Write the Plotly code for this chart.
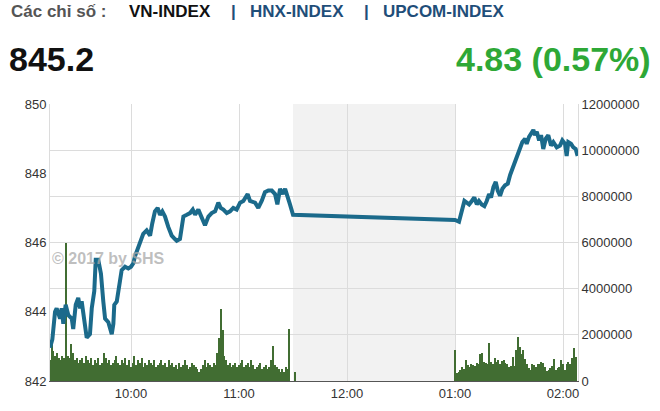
import plotly.graph_objects as go

# ---------------- data ----------------
# price line: time in minutes since midnight, VN-INDEX value
price_time = [
    555.0, 556.3, 557.8, 558.7, 560.6, 561.5, 562.4, 563.7, 565.2, 567.1,
    567.9, 569.3, 570.7, 571.7, 572.6, 574.1, 575.4, 577.2, 578.2, 579.6,
    580.4, 581.8, 583.3, 584.6, 585.6, 587.4, 589.3, 590.2, 590.7, 592.1,
    593.3, 594.8, 596.7, 598.5, 600.0, 601.3, 602.2, 603.7, 605.0, 606.8,
    608.7, 610.6, 611.8, 613.3, 614.8, 616.1, 617.4, 618.9, 620.7, 622.6,
    624.4, 625.4, 627.2, 629.1, 631.0, 632.8, 634.3, 635.6, 637.4, 639.3,
    641.1, 643.0, 644.8, 646.7, 648.5, 649.8, 651.3, 653.2, 655.0, 656.8,
    658.7, 660.6, 662.4, 664.8, 666.1, 668.9, 670.7, 672.6, 674.4, 676.3,
    678.2, 680.0, 681.3, 682.8, 684.3, 685.6, 686.8, 688.3, 690.0,
    780.0, 782.2, 783.7, 785.2, 786.5, 787.8, 789.3, 790.7, 792.1, 793.3,
    794.8, 796.3, 797.6, 798.9, 800.0, 801.3, 802.6, 803.7, 805.0, 806.3,
    807.8, 809.3, 810.6, 812.4, 814.3, 816.1, 817.4, 818.9, 819.8, 821.1,
    822.6, 823.5, 824.4, 825.4, 826.7, 827.8, 829.0, 830.4, 831.8, 833.3,
    834.6, 836.5, 838.3, 839.6, 841.1, 842.0, 842.9, 844.4, 845.7, 847.0,
    848.1,
]
price_value = [
    842.96, 843.2, 844.0, 844.1, 843.8, 844.1, 843.65, 844.2, 843.9, 843.8,
    843.5, 844.2, 844.4, 844.1, 844.3, 843.8, 843.25, 843.35, 844.1, 844.6,
    845.5, 845.5, 845.1, 844.3, 843.8, 843.7, 843.35, 843.65, 844.2, 844.3,
    844.8, 845.2, 845.3, 845.25, 845.3, 845.4, 845.6, 845.8, 846.05, 846.25,
    846.35, 846.2, 846.55, 846.9, 847.0, 846.8, 846.9, 846.75, 846.45, 846.2,
    846.1, 846.05, 846.1, 846.75, 846.8, 846.85, 846.95, 846.8, 846.95, 846.7,
    846.5, 846.75, 846.85, 846.9, 847.15, 847.0, 846.95, 846.85, 846.9, 847.0,
    846.95, 847.15, 847.2, 847.4, 847.2, 847.15, 847.0, 847.2, 847.45, 847.5,
    847.5, 847.4, 847.1, 847.55, 847.4, 847.55, 847.3, 847.1, 846.8,
    846.65, 846.6, 846.9, 847.2, 847.15, 847.1, 847.2, 847.3, 847.1, 847.2,
    847.1, 847.05, 847.2, 847.4, 847.3, 847.6, 847.75, 847.5, 847.35, 847.55,
    847.65, 847.7, 847.95, 848.2, 848.45, 848.65, 848.9, 849.0, 848.85, 849.05,
    849.15, 849.25, 849.1, 849.2, 848.95, 849.1, 848.7, 849.0, 849.1, 848.8,
    848.9, 848.75, 848.8, 848.95, 848.85, 848.5, 848.9, 848.85, 848.75, 848.7,
    848.5,
]

# volume per minute (millions of shares), morning session from 09:15
vol_morning = [
    0.9, 1.7, 1.3, 1.1, 1.2, 1.0, 0.9, 1.1, 1.0, 6.0,
    1.1, 1.0, 1.6, 1.2, 0.9, 1.0, 0.8, 0.9, 1.0, 0.8,
    1.1, 0.9, 0.8, 1.0, 0.7, 0.9, 0.8, 1.0, 0.7, 0.8,
    1.2, 1.0, 0.8, 0.9, 0.7, 0.8, 0.9, 1.1, 0.8, 0.7,
    0.9, 0.8, 1.0, 0.7, 0.9, 0.6, 0.8, 1.1, 0.7, 0.9,
    0.8, 1.0, 0.6, 0.8, 0.7, 0.9, 0.8, 0.7, 0.9, 0.6,
    0.7, 0.8, 0.9, 0.7, 0.8, 0.6, 0.9, 0.7, 0.8, 0.6,
    0.7, 0.5, 0.8, 0.6, 0.7, 0.9, 0.7, 0.5, 0.6, 0.8,
    0.7, 0.6, 0.5, 0.4, 0.5, 0.7, 0.9, 0.6, 0.8, 0.7,
    0.6, 0.8, 0.7, 1.2, 1.85, 3.1, 2.2, 1.1, 0.9, 0.7,
    0.8, 0.6, 0.7, 0.8, 0.6, 0.7, 0.8, 0.9, 0.6, 0.7,
    0.8, 0.6, 0.9, 0.7, 0.5, 0.6, 0.7, 0.8, 0.5, 0.6,
    0.7, 0.5, 0.6, 0.9, 1.5, 0.7, 0.6, 0.5, 0.4, 0.5,
    0.4, 0.6, 0.5, 2.25, 0.0, 0.0, 0.4,
]
# volume per minute (millions of shares), afternoon session from 13:00
vol_afternoon = [
    1.33, 0.35, 0.39, 0.46, 0.61, 0.54, 0.93, 0.68, 0.61, 0.75,
    0.68, 0.64, 0.78, 0.72, 1.16, 1.22, 0.83, 0.78, 0.75, 1.65,
    0.83, 0.75, 1.01, 0.83, 0.90, 0.75, 0.87, 0.93, 0.78, 0.72,
    0.61, 0.64, 1.04, 0.64, 1.33, 1.91, 1.48, 1.16, 1.33, 0.97,
    0.75, 0.58, 0.49, 0.75, 0.68, 0.61, 0.75, 0.72, 0.83, 0.78,
    0.61, 0.43, 0.46, 0.58, 0.64, 0.97, 0.49, 0.58, 0.61, 0.90,
    0.75, 0.49, 0.75, 0.83, 0.75, 1.01, 1.41, 1.04,
]
morning_start = 555   # 09:15
afternoon_start = 780  # 13:00
lunch_start, lunch_end = 690, 780

tick_minutes = [600, 660, 720, 780, 840]
tick_labels = ["10:00", "11:00", "12:00", "01:00", "02:00"]
price_ticks = [842, 844, 846, 848, 850]

# --------------- build ---------------
vol_x = [morning_start + i for i in range(len(vol_morning))] + \
        [afternoon_start + i for i in range(len(vol_afternoon))]
vol_y = [v * 1e6 for v in vol_morning + vol_afternoon]

FONT = "Liberation Sans, Arial, sans-serif"
fig = go.Figure()
fig.add_trace(go.Bar(x=vol_x, y=vol_y, width=0.7, marker_color="#416d32",
                     marker_line_width=0, yaxis="y", hoverinfo="skip"))
fig.add_trace(go.Scatter(x=price_time, y=price_value, mode="lines",
                         line=dict(color="#1b6a8b", width=4),
                         yaxis="y2", hoverinfo="skip"))

L, R, T, B = 50, 578, 104, 381
W, H = 660, 411


def px(xp):
    return (xp - L) / (R - L)


def py(yp):
    return (B - yp) / (B - T)


fig.add_shape(type="rect", xref="x", yref="paper", x0=lunch_start, x1=lunch_end,
              y0=0, y1=1, fillcolor="#f2f2f2", line_width=0, layer="below")

ann = []
hdr_y = py(12)
ann.append(dict(text="<b>Các chỉ số :</b>", x=px(9), y=hdr_y, font=dict(size=17, color="#555555")))
ann.append(dict(text="<b>VN-INDEX</b>", x=px(127), y=hdr_y, font=dict(size=17, color="#111111")))
ann.append(dict(text="<b>|</b>", x=px(229), y=hdr_y, font=dict(size=17, color="#1f4e79")))
ann.append(dict(text="<b>HNX-INDEX</b>", x=px(248), y=hdr_y, font=dict(size=17, color="#1f4e79")))
ann.append(dict(text="<b>|</b>", x=px(362), y=hdr_y, font=dict(size=17, color="#1f4e79")))
ann.append(dict(text="<b>UPCOM-INDEX</b>", x=px(381), y=hdr_y, font=dict(size=17, color="#1f4e79")))
ann.append(dict(text="<b>845.2</b>", x=px(7), y=py(59), font=dict(size=34, color="#111111")))
ann.append(dict(text="<b>4.83 (0.57%)</b>", x=px(653), y=py(59), xanchor="right",
                font=dict(size=34, color="#2ea836")))
ann.append(dict(text="<b>© 2017 by SHS</b>", x=px(50), y=py(258),
                font=dict(size=16, color="rgba(170,170,170,0.75)")))
annotations = []
for a in ann:
    d = dict(xref="paper", yref="paper", showarrow=False, xanchor="left", yanchor="middle")
    d.update(a)
    d["font"] = dict(family=FONT, **a["font"])
    annotations.append(d)

fig.update_layout(
    width=W, height=H, autosize=False,
    margin=dict(l=L, r=W - R, t=T, b=H - B, pad=0),
    paper_bgcolor="white", plot_bgcolor="white",
    showlegend=False, bargap=0,
    font=dict(family=FONT, size=13, color="#333333"),
    annotations=annotations,
    xaxis=dict(range=[555, 848.3], tickvals=tick_minutes, ticktext=tick_labels,
               showgrid=True, gridcolor="#dcdcdc", gridwidth=1,
               showline=True, linecolor="#555555", linewidth=1, automargin=False,
               ticks="", zeroline=False, tickfont=dict(size=13, color="#333333")),
    yaxis=dict(side="right", range=[0, 12e6], dtick=2e6, tickformat="d",
               showgrid=True, gridcolor="#dcdcdc", gridwidth=1, automargin=False,
               showline=True, linecolor="#dcdcdc", zeroline=False, ticks="",
               tickfont=dict(size=13, color="#333333")),
    yaxis2=dict(side="left", overlaying="y", range=[842, 850], tickvals=price_ticks,
                showgrid=False, showline=True, linecolor="#dcdcdc", zeroline=False,
                ticks="", automargin=False, tickfont=dict(size=13, color="#333333")),
)

fig.write_html("out.html", config={"displayModeBar": False},
               post_script="document.body.style.margin='0';document.body.style.padding='0';")
